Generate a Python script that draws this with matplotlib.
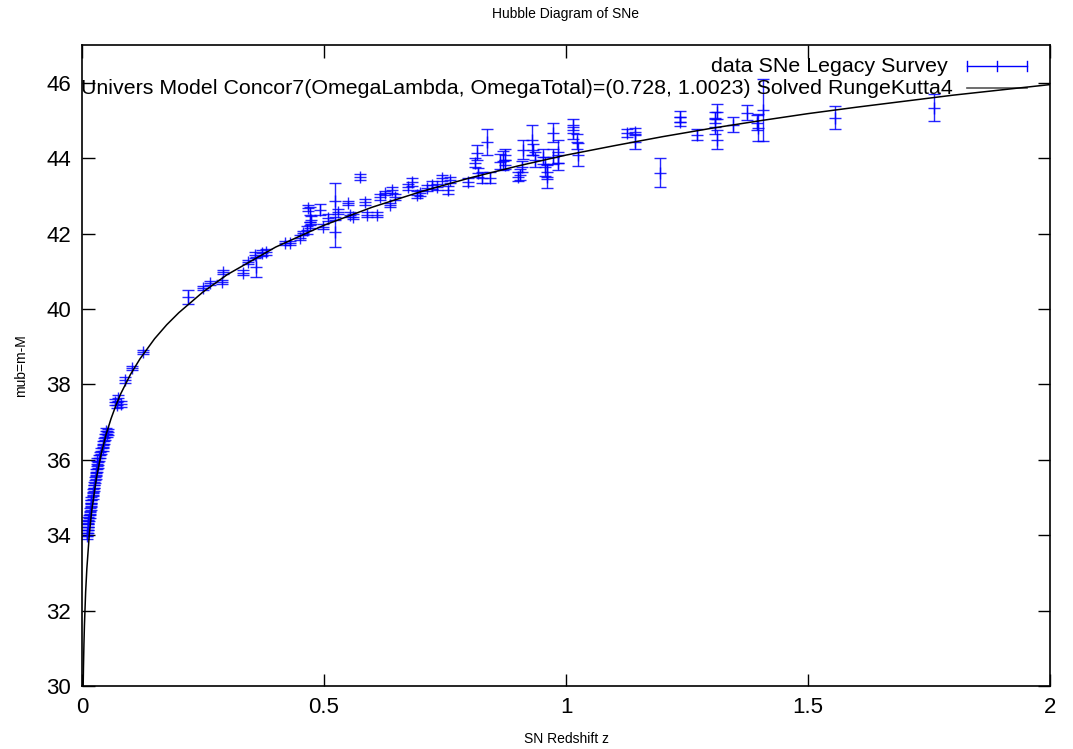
import matplotlib
matplotlib.use("Agg")
import matplotlib.pyplot as plt
import logging

logging.getLogger("matplotlib.font_manager").setLevel(logging.ERROR)
plt.rcParams['font.family'] = ['Liberation Sans', 'DejaVu Sans']

# SNe data: redshift, distance modulus, error
sn_z = [0.0093, 0.0103, 0.0114, 0.0124, 0.0134, 0.0124, 0.0145, 0.0165, 0.0155, 0.0176,
        0.0196, 0.0186, 0.0217, 0.0227, 0.0248, 0.0238, 0.0269, 0.0279, 0.0289, 0.0310,
        0.0331, 0.0310, 0.0351, 0.0372, 0.0393, 0.0434, 0.0424, 0.0455, 0.0475, 0.0517,
        0.0486, 0.0537, 0.0682, 0.0744, 0.0806, 0.0713, 0.0888, 0.1023, 0.126,
        0.218, 0.250, 0.264, 0.289, 0.291, 0.333, 0.343, 0.360, 0.357, 0.371, 0.381,
        0.419, 0.430, 0.450, 0.457, 0.464, 0.471, 0.474, 0.467, 0.471, 0.492,
        0.498, 0.508, 0.523, 0.523, 0.529, 0.550, 0.554, 0.560, 0.574, 0.585,
        0.589, 0.610, 0.616, 0.626, 0.636, 0.640, 0.647, 0.674, 0.682, 0.692,
        0.698, 0.713, 0.723, 0.733, 0.744, 0.756, 0.760, 0.798, 0.812, 0.816,
        0.818, 0.826, 0.837, 0.843, 0.864, 0.874, 0.874, 0.870, 0.901, 0.905,
        0.909, 0.911, 0.930, 0.932, 0.936, 0.953, 0.957, 0.961, 0.961, 0.973,
        0.973, 0.983, 0.983, 1.014, 1.014, 1.022, 1.025, 1.126, 1.143, 1.143,
        1.194, 1.236, 1.236, 1.271, 1.308, 1.308, 1.312, 1.312, 1.345, 1.374,
        1.395, 1.397, 1.407, 1.556, 1.760]
sn_mu = [33.98, 34.06, 34.14, 34.22, 34.30, 34.40, 34.46, 34.54, 34.64, 34.75,
         34.86, 34.93, 35.04, 35.15, 35.25, 35.33, 35.47, 35.57, 35.68, 35.76,
         35.86, 35.97, 36.05, 36.13, 36.23, 36.31, 36.42, 36.50, 36.61, 36.69,
         36.77, 36.74, 37.54, 37.64, 37.48, 37.46, 38.12, 38.44, 38.86,
         40.32, 40.56, 40.69, 40.72, 40.98, 40.96, 41.25, 41.12, 41.44, 41.49, 41.52,
         41.75, 41.75, 41.89, 42.02, 42.10, 42.23, 42.36, 42.68, 42.50, 42.63,
         42.18, 42.42, 42.85, 42.04, 42.58, 42.81, 42.50, 42.45, 43.51, 42.84,
         42.50, 42.50, 42.97, 43.08, 42.76, 43.16, 42.97, 43.24, 43.37, 43.03,
         43.08, 43.21, 43.29, 43.24, 43.48, 43.16, 43.43, 43.37, 43.88, 44.14,
         43.61, 43.48, 44.43, 43.48, 43.90, 44.09, 43.82, 43.93, 43.51, 43.56,
         43.77, 44.22, 44.49, 44.22, 43.96, 44.04, 43.77, 43.64, 43.51, 44.67,
         44.04, 44.17, 43.88, 44.89, 44.67, 44.43, 44.09, 44.67, 44.70, 44.43,
         43.61, 45.10, 44.96, 44.62, 45.07, 44.83, 44.49, 45.23, 44.88, 45.20,
         44.94, 44.81, 45.28, 45.07, 45.34]
sn_err = [0.08, 0.08, 0.08, 0.08, 0.08, 0.08, 0.08, 0.08, 0.08, 0.08,
          0.08, 0.08, 0.08, 0.08, 0.08, 0.08, 0.08, 0.08, 0.08, 0.08,
          0.08, 0.08, 0.08, 0.08, 0.08, 0.08, 0.08, 0.08, 0.08, 0.08,
          0.08, 0.08, 0.08, 0.08, 0.08, 0.08, 0.08, 0.06, 0.06,
          0.19, 0.06, 0.06, 0.06, 0.06, 0.06, 0.06, 0.27, 0.08, 0.08, 0.08,
          0.05, 0.05, 0.06, 0.06, 0.10, 0.08, 0.10, 0.08, 0.20, 0.15,
          0.06, 0.10, 0.50, 0.40, 0.06, 0.06, 0.06, 0.06, 0.08, 0.08,
          0.06, 0.06, 0.08, 0.06, 0.06, 0.08, 0.08, 0.08, 0.10, 0.10,
          0.08, 0.08, 0.10, 0.08, 0.08, 0.10, 0.08, 0.10, 0.12, 0.20,
          0.12, 0.15, 0.35, 0.15, 0.20, 0.15, 0.12, 0.25, 0.12, 0.15,
          0.15, 0.25, 0.40, 0.15, 0.20, 0.20, 0.25, 0.20, 0.30, 0.25,
          0.20, 0.30, 0.20, 0.15, 0.15, 0.20, 0.30, 0.10, 0.10, 0.20,
          0.38, 0.15, 0.12, 0.15, 0.15, 0.20, 0.25, 0.20, 0.20, 0.20,
          0.20, 0.35, 0.82, 0.31, 0.35]

# model curve
model_z = [0.0024, 0.003, 0.004, 0.005, 0.0075, 0.01, 0.015, 0.02, 0.03, 0.04,
           0.05, 0.06, 0.07, 0.08, 0.1, 0.12, 0.15, 0.175, 0.2, 0.25, 0.3,
           0.4, 0.5, 0.6, 0.7, 0.8, 0.9, 1.0, 1.1, 1.2, 1.3,
           1.4, 1.5, 1.6, 1.7, 1.8, 1.9, 2.0]
model_mu = [30.00, 30.48, 31.11, 31.60, 32.49, 33.11, 34.00, 34.64, 35.53, 36.18,
            36.68, 37.09, 37.44, 37.75, 38.26, 38.68, 39.21, 39.58, 39.90, 40.45, 40.91,
            41.64, 42.22, 42.70, 43.11, 43.47, 43.79, 44.08, 44.33, 44.57, 44.79,
            44.99, 45.18, 45.35, 45.51, 45.67, 45.81, 45.95]

data_label = "data SNe Legacy Survey"
model_label = "Univers Model Concor7(OmegaLambda, OmegaTotal)=(0.728, 1.0023) Solved RungeKutta4"

fig = plt.figure(figsize=(10.73, 7.49), dpi=100)
ax = fig.add_axes([82/1073, 1 - 686/749, 968/1073, 641/749])

ax.plot(model_z, model_mu, color='black', lw=1.1, zorder=3)
ax.errorbar(sn_z, sn_mu, yerr=sn_err, fmt='+', color='#0000ff', ms=8, mew=1,
            elinewidth=1, capsize=4.3, capthick=1, alpha=0.85, zorder=2)

ax.set_xlim(0, 2)
ax.set_ylim(30, 47)
ax.set_xticks([0, 0.5, 1, 1.5, 2])
ax.set_xticklabels(['0', '0.5', '1', '1.5', '2'])
ax.set_yticks(range(30, 47, 2))
ax.tick_params(direction='in', length=9, width=1, labelsize=16, pad=8,
               top=True, right=True)
for s in ax.spines.values():
    s.set_linewidth(1.2)

fig.text(566/1073, 1 - 14/749, "Hubble Diagram of SNe", ha='center', va='center', fontsize=10)
ax.set_xlabel("SN Redshift z", fontsize=10)
ax.xaxis.set_label_coords(0.5, -0.072)
ax.set_ylabel("mub=m-M", fontsize=10)
ax.yaxis.set_label_coords(-0.056, 0.5)

# gnuplot style key, drawn by hand in axes fraction
tr = ax.transAxes
def fx(px):
    return (px - 82) / 968
def fy(py):
    return (686 - py) / 641
ax.text(fx(948), fy(66), data_label, transform=tr, ha='right', va='center', fontsize=15.4)
ax.text(fx(953), fy(88), model_label, transform=tr, ha='right', va='center', fontsize=15.4)
x0, x1, xm = fx(967), fx(1027), fx(997)
ya, yb = fy(66), fy(88)
h = 5 / 641
ax.plot([x0, x1], [ya, ya], color='#0000ff', lw=1, transform=tr, clip_on=False)
for xx in (x0, x1, xm):
    ax.plot([xx, xx], [ya - h, ya + h], color='#0000ff', lw=1, transform=tr, clip_on=False)
ax.plot([x0, x1], [yb, yb], color='#555555', lw=1.2, transform=tr, clip_on=False)

fig.savefig('out.png', dpi=100)
